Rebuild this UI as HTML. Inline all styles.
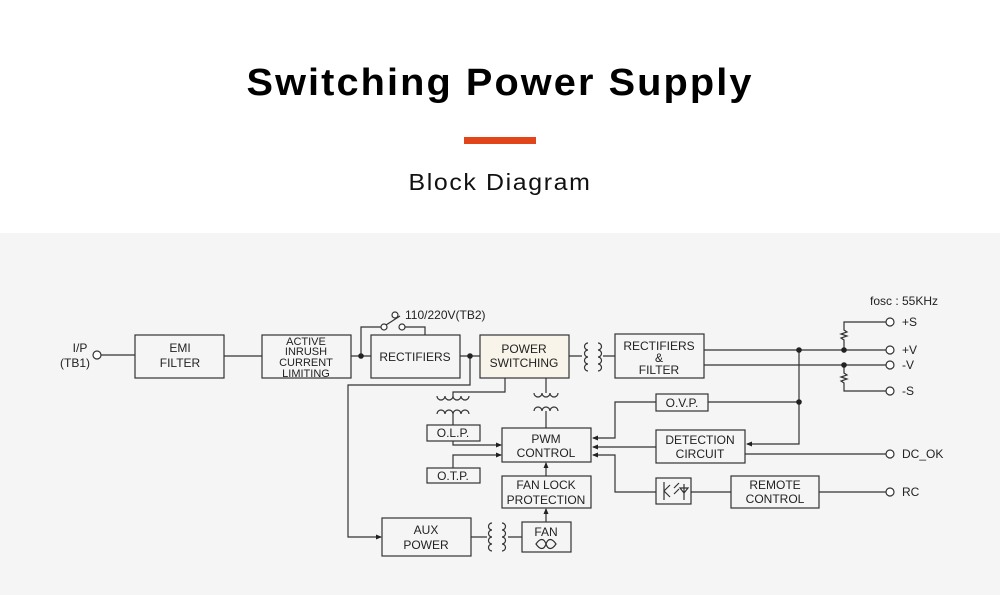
<!DOCTYPE html>
<html><head><meta charset="utf-8"><style>
html,body{margin:0;padding:0;width:1000px;height:595px;overflow:hidden;background:#fff}
svg{display:block}
</style></head><body>
<svg width="1000" height="595" viewBox="0 0 1000 595" xmlns="http://www.w3.org/2000/svg">
<defs>
<marker id="ar" markerWidth="6" markerHeight="6" refX="5" refY="3" orient="auto" markerUnits="userSpaceOnUse"><path d="M0,0.5 L6,3 L0,5.5 z" fill="#222"/></marker>
</defs>
<rect x="0" y="0" width="1000" height="233" fill="#fff"/>
<rect x="0" y="233" width="1000" height="362" fill="#f5f5f5"/>
<text x="500" y="95" text-anchor="middle" font-family="Liberation Sans, sans-serif" font-weight="bold" font-size="38" letter-spacing="2" textLength="507" lengthAdjust="spacingAndGlyphs" fill="#000">Switching Power Supply</text>
<rect x="464" y="137" width="72" height="7" fill="#e2451a"/>
<text x="500" y="190" text-anchor="middle" font-family="Liberation Sans, sans-serif" font-size="23" letter-spacing="1.5" textLength="183" lengthAdjust="spacingAndGlyphs" fill="#111">Block Diagram</text>

<g stroke="#333" stroke-width="1.2" fill="none">
<rect x="135" y="335" width="89" height="43"/>
<rect x="262" y="335" width="89" height="43"/>
<rect x="371" y="335" width="89" height="43"/>
<rect x="480" y="335" width="89" height="43" fill="#f8f4ea"/>
<rect x="615" y="334" width="89" height="44"/>
<rect x="656" y="394" width="52" height="17"/>
<rect x="656" y="430" width="89" height="33"/>
<rect x="656" y="478" width="35" height="26"/>
<rect x="731" y="476" width="88" height="32"/>
<rect x="502" y="428" width="89" height="34"/>
<rect x="502" y="476" width="89" height="32"/>
<rect x="522" y="522" width="49" height="30"/>
<rect x="382" y="518" width="89" height="38"/>
<rect x="427" y="425" width="53" height="16"/>
<rect x="427" y="468" width="53" height="15"/>
<circle cx="97" cy="355" r="4" fill="#fff"/>
<path d="M101,355 H135 M224,356 H262 M351,356 H371 M460,356 H480 M569,356 H582 M603,356 H615"/>
<path d="M361,356 V327 H381 M405,327 H425 V335"/>
<circle cx="384" cy="327" r="3" fill="#fff"/>
<circle cx="402" cy="327" r="3" fill="#fff"/>
<circle cx="395" cy="315" r="3" fill="#fff"/>
<path d="M386,325 L400,316"/>
<path d="M588,343 a3.5,3.5 0 0 0 0,7 a3.5,3.5 0 0 0 0,7 a3.5,3.5 0 0 0 0,7 a3.5,3.5 0 0 0 0,7"/>
<path d="M598,343 a3.5,3.5 0 0 1 0,7 a3.5,3.5 0 0 1 0,7 a3.5,3.5 0 0 1 0,7 a3.5,3.5 0 0 1 0,7"/>
<path d="M704,350 H886 M704,365 H886"/>
<path d="M799,350 V444 H747" marker-end="url(#ar)"/>
<path d="M708,402 H799 M656,402 H615 V438 H593" marker-end="url(#ar)"/>
<path d="M656,447 H593" marker-end="url(#ar)"/>
<path d="M745,454 H886"/>
<path d="M656,492 H615 V455 H593" marker-end="url(#ar)"/>
<path d="M691,492 H731 M819,492 H886"/>
<path d="M886,322 H844 V330 l3,2 l-6,2 l6,2 l-6,2 l3,2 V350"/>
<path d="M844,365 V373 l3,2 l-6,2 l6,2 l-6,2 l3,2 V391 H886"/>
<!-- PS to PWM coil -->
<path d="M546,378 V393 M546,411 V428"/>
<path d="M534,393 a4,4 0 0 0 8,0 a4,4 0 0 0 8,0 a4,4 0 0 0 8,0"/>
<path d="M534,411 a4,4 0 0 1 8,0 a4,4 0 0 1 8,0 a4,4 0 0 1 8,0"/>
<!-- OLP coil -->
<path d="M505,378 V392 H453 V396"/>
<path d="M437,396 a4,4 0 0 0 8,0 a4,4 0 0 0 8,0 a4,4 0 0 0 8,0 a4,4 0 0 0 8,0"/>
<path d="M437,414 a4,4 0 0 1 8,0 a4,4 0 0 1 8,0 a4,4 0 0 1 8,0 a4,4 0 0 1 8,0"/>
<path d="M453,414 V425"/>
<path d="M453,441 V445 H501" marker-end="url(#ar)"/>
<path d="M453,468 V455 H501" marker-end="url(#ar)"/>
<path d="M546,476 V463" marker-end="url(#ar)"/>
<path d="M546,522 V509" marker-end="url(#ar)"/>
<path d="M470,356 V385 H348 V537 H381" marker-end="url(#ar)"/>
<path d="M471,537 H487 M508,537 H522"/>
<path d="M492,523 a3.5,3.5 0 0 0 0,7 a3.5,3.5 0 0 0 0,7 a3.5,3.5 0 0 0 0,7 a3.5,3.5 0 0 0 0,7"/>
<path d="M502,523 a3.5,3.5 0 0 1 0,7 a3.5,3.5 0 0 1 0,7 a3.5,3.5 0 0 1 0,7 a3.5,3.5 0 0 1 0,7"/>
<path d="M536,544 c4,-6 8,-6 10,0 c2,6 6,6 10,0 c-4,-6 -8,-6 -10,0 c-2,6 -6,6 -10,0z"/>
<path d="M664,482 V500 M664,491 l6,-6 M664,491 l6,6 M674,488 l5,-5 M674,494 l5,-5 M684,484 V500 M680,488 h8 l-4,5 z"/>
<circle cx="890" cy="322" r="4" fill="#fff"/>
<circle cx="890" cy="350" r="4" fill="#fff"/>
<circle cx="890" cy="365" r="4" fill="#fff"/>
<circle cx="890" cy="391" r="4" fill="#fff"/>
<circle cx="890" cy="454" r="4" fill="#fff"/>
<circle cx="890" cy="492" r="4" fill="#fff"/>
</g>
<g fill="#222">
<circle cx="361" cy="356" r="2.8"/><circle cx="470" cy="356" r="2.8"/>
<circle cx="799" cy="350" r="2.8"/><circle cx="799" cy="402" r="2.8"/>
<circle cx="844" cy="350" r="2.8"/><circle cx="844" cy="365" r="2.8"/>
</g>
<g font-family="Liberation Sans, sans-serif" font-size="12" fill="#222" text-anchor="middle">
<text x="80" y="352">I/P</text><text x="75" y="367">(TB1)</text>
<text x="180" y="352">EMI</text><text x="180" y="367">FILTER</text>
<text x="306" y="345" font-size="11">ACTIVE</text><text x="306" y="355" font-size="11">INRUSH</text><text x="306" y="366" font-size="11">CURRENT</text><text x="306" y="377" font-size="11">LIMITING</text>
<text x="415" y="361">RECTIFIERS</text>
<text x="524" y="353">POWER</text><text x="524" y="367">SWITCHING</text>
<text x="659" y="350">RECTIFIERS</text><text x="659" y="362">&amp;</text><text x="659" y="374">FILTER</text>
<text x="682" y="407">O.V.P.</text>
<text x="700" y="444">DETECTION</text><text x="700" y="458">CIRCUIT</text>
<text x="775" y="489">REMOTE</text><text x="775" y="503">CONTROL</text>
<text x="546" y="443">PWM</text><text x="546" y="457">CONTROL</text>
<text x="546" y="489">FAN LOCK</text><text x="546" y="504">PROTECTION</text>
<text x="546" y="536">FAN</text>
<text x="426" y="534">AUX</text><text x="426" y="549">POWER</text>
<text x="453" y="437">O.L.P.</text>
<text x="453" y="480">O.T.P.</text>
<g text-anchor="start">
<text x="405" y="319">110/220V(TB2)</text>
<text x="870" y="305">fosc : 55KHz</text>
<text x="902" y="326">+S</text><text x="902" y="354">+V</text><text x="902" y="369">-V</text><text x="902" y="395">-S</text>
<text x="902" y="458">DC_OK</text><text x="902" y="496">RC</text>
</g>
</g>
</svg>
</body></html>
